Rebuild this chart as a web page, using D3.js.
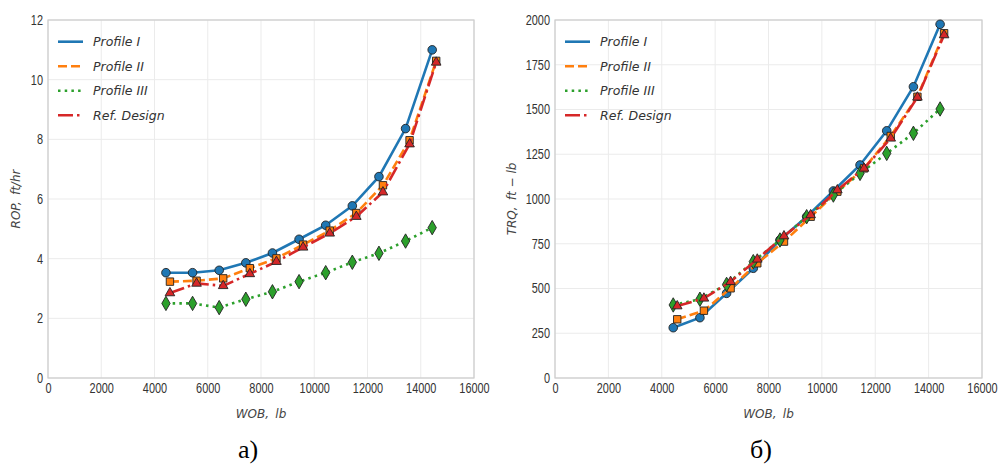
<!DOCTYPE html>
<html>
<head>
<meta charset="utf-8">
<script src="https://d3js.org/d3.v7.min.js"></script>
<style>
    html, body { margin: 0; padding: 0; background: #fff; overflow: hidden; }
    .tick text { font-family: "Liberation Sans", Arial, sans-serif; font-size: 14px; fill: #333; }
    .axis path, .axis line { display: none; }
    .grid line { stroke: #ebebeb; stroke-width: 1; }
    .frame { fill: none; stroke: #cccccc; stroke-width: 1.2; }
    .alabel { font-family: "DejaVu Sans", sans-serif; font-style: italic; font-size: 12px; fill: #444; }
    .legend text { font-family: "DejaVu Sans", sans-serif; font-style: italic; font-size: 12.5px; fill: #333; }
    .caption { font-family: "Liberation Serif", "Times New Roman", serif; font-size: 26px; fill: #000; }
</style>
</head>
<body>
<svg id="chart" width="999" height="467"></svg>
<script>
// WOB values (profile I / III markers and profile II / ref. markers sit slightly apart)
var wobA = [4430, 5430, 6430, 7430, 8430, 9430, 10430, 11430, 12430, 13430, 14430];
var wobB = [4580, 5580, 6580, 7580, 8580, 9580, 10580, 11580, 12580, 13580, 14580];

// ROP, ft/hr
var rop1 = [3.53, 3.53, 3.61, 3.86, 4.19, 4.65, 5.12, 5.77, 6.75, 8.36, 11.0];
var rop2 = [3.23, 3.26, 3.34, 3.68, 4.01, 4.47, 4.94, 5.53, 6.46, 7.97, 10.63];
var rop3 = [2.50, 2.50, 2.36, 2.64, 2.89, 3.23, 3.53, 3.88, 4.18, 4.59, 5.04];
var ropRef = [2.85, 3.17, 3.09, 3.49, 3.90, 4.38, 4.85, 5.41, 6.23, 7.84, 10.58];

// TRQ, ft-lb
var trq1 = [281, 337, 473, 613, 771, 901, 1045, 1190, 1381, 1627, 1976];
var trq2 = [328, 376, 501, 641, 762, 901, 1041, 1171, 1352, 1571, 1926];
var trq3 = [408, 440, 523, 650, 771, 901, 1022, 1143, 1255, 1367, 1503];
var trqRef = [402, 445, 538, 663, 793, 911, 1050, 1171, 1339, 1568, 1916];

var seriesNames = ["Profile I", "Profile II", "Profile III", "Ref. Design"];
var colors = ["#1f77b4", "#ff7f0e", "#2ca02c", "#d62728"];
var dashes = [null, "9,4", "2.5,4.2", "15,4,2.5,4"];
var symbols = [d3.symbolCircle, d3.symbolSquare, d3.symbolDiamond, d3.symbolTriangle];
var symSizes = [58, 55, 60, 40];

var xTicks = [0, 2000, 4000, 6000, 8000, 10000, 12000, 14000, 16000];
var ropTicks = [0, 2, 4, 6, 8, 10, 12];
var trqTicks = [0, 250, 500, 750, 1000, 1250, 1500, 1750, 2000];

var svg = d3.select("#chart");

function drawPanel(opt) {
    var x = d3.scaleLinear().domain([0, 16000]).range([opt.left, opt.right]);
    var y = d3.scaleLinear().domain([0, opt.ymax]).range([378, 20]);
    var g = svg.append("g");

    // grid
    var grid = g.append("g").attr("class", "grid");
    grid.selectAll(".vx").data(xTicks).enter().append("line")
        .attr("x1", d => x(d)).attr("x2", d => x(d)).attr("y1", 20).attr("y2", 378);
    grid.selectAll(".hy").data(opt.yTicks).enter().append("line")
        .attr("y1", d => y(d)).attr("y2", d => y(d)).attr("x1", opt.left).attr("x2", opt.right);

    g.append("rect").attr("class", "frame")
        .attr("x", opt.left).attr("y", 20)
        .attr("width", opt.right - opt.left).attr("height", 358);

    // tick labels are narrow in the reference: squeeze them horizontally
    var xa = g.append("g").attr("class", "axis")
        .attr("transform", "translate(0,378)")
        .call(d3.axisBottom(x).tickValues(xTicks).tickFormat(d3.format("d")).tickSize(0).tickPadding(5));
    xa.selectAll("text").attr("transform", "scale(0.78,1)");
    var ya = g.append("g").attr("class", "axis")
        .attr("transform", "translate(" + (opt.left - 5) + ",0)")
        .call(d3.axisLeft(y).tickValues(opt.yTicks).tickFormat(d3.format("d")).tickSize(0).tickPadding(0));
    ya.selectAll("text").attr("transform", "scale(0.78,1)");

    // series
    opt.series.forEach(function(s, i) {
        var pts = s.xs.map((v, k) => [v, s.ys[k]]);
        var line = d3.line().x(d => x(d[0])).y(d => y(d[1]));
        g.append("path").datum(pts)
            .attr("fill", "none")
            .attr("stroke", colors[i])
            .attr("stroke-width", 2.6)
            .attr("stroke-dasharray", dashes[i])
            .attr("d", line);
        g.selectAll(".m" + i).data(pts).enter().append("path")
            .attr("transform", d => "translate(" + x(d[0]) + "," + y(d[1]) + ")")
            .attr("d", d3.symbol().type(symbols[i]).size(symSizes[i]))
            .attr("fill", colors[i])
            .attr("stroke", "#222")
            .attr("stroke-width", 0.9);
    });

    // legend
    var lg = g.append("g").attr("class", "legend");
    seriesNames.forEach(function(n, i) {
        var yy = 41.7 + i * 24.5;
        lg.append("line")
            .attr("x1", opt.left + 10).attr("x2", opt.left + 35)
            .attr("y1", yy).attr("y2", yy)
            .attr("stroke", colors[i]).attr("stroke-width", 2.6)
            .attr("stroke-dasharray", dashes[i]);
        lg.append("text").attr("x", opt.left + 45).attr("y", yy + 4.5).text(n);
    });

    // axis labels
    g.append("text").attr("class", "alabel")
        .attr("x", (opt.left + opt.right) / 2).attr("y", 418)
        .attr("text-anchor", "middle")
        .text("WOB,\u2009 lb");
    g.append("text").attr("class", "alabel")
        .attr("transform", "translate(" + opt.ylabX + ",199) rotate(-90)")
        .attr("text-anchor", "middle")
        .text(opt.ylabel);

    svg.append("text").attr("class", "caption")
        .attr("x", opt.capX).attr("y", 458)
        .attr("text-anchor", "middle")
        .text(opt.caption);
}

drawPanel({
    left: 48, right: 474, ymax: 12, yTicks: ropTicks,
    ylabel: "ROP,\u2009 ft/hr", ylabX: 20, caption: "a)", capX: 248,
    series: [
        {xs: wobA, ys: rop1}, {xs: wobB, ys: rop2},
        {xs: wobA, ys: rop3}, {xs: wobB, ys: ropRef}
    ]
});

drawPanel({
    left: 555, right: 982, ymax: 2000, yTicks: trqTicks,
    ylabel: "TRQ,\u2009 ft \u2212 lb", ylabX: 516, caption: "б)", capX: 761,
    series: [
        {xs: wobA, ys: trq1}, {xs: wobB, ys: trq2},
        {xs: wobA, ys: trq3}, {xs: wobB, ys: trqRef}
    ]
});
</script>
</body>
</html>
